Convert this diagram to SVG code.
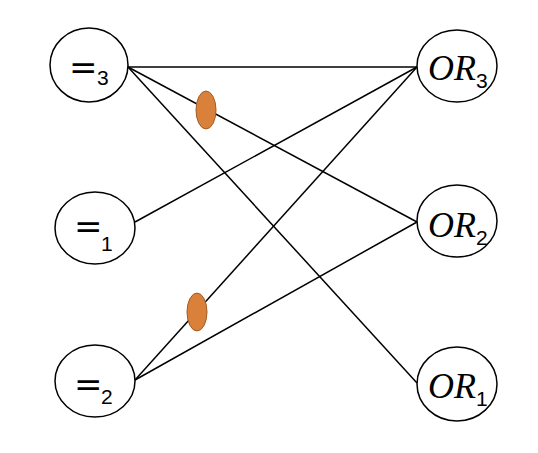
<svg xmlns="http://www.w3.org/2000/svg" width="538" height="453" viewBox="0 0 538 453">
<style>
.node{fill:#fff;stroke:#000;stroke-width:1.5}
.eq{font-family:"DejaVu Sans",sans-serif;font-size:34px;fill:#000}
.or{font-family:"Liberation Serif","Times New Roman",serif;font-style:italic;font-size:36px;fill:#000}
.sub{font-family:"Liberation Sans",Arial,sans-serif;font-style:normal;font-size:21px}
.conn line{stroke:#000;stroke-width:1.5}
.dot{fill:#D9813A;stroke:#A35C24;stroke-width:1}
</style>
<rect width="538" height="453" fill="#fff"/>
<g id="connectors" class="conn">
<line x1="128" y1="67" x2="417" y2="67"/>
<line x1="128" y1="67" x2="417" y2="222"/>
<line x1="128" y1="67" x2="417" y2="383"/>
<line x1="135" y1="222" x2="417" y2="67"/>
<line x1="135" y1="380" x2="417" y2="67"/>
<line x1="135" y1="380" x2="417" y2="222"/>
</g>
<g id="marks">
<ellipse class="dot" cx="206" cy="110" rx="10" ry="19"/>
<ellipse class="dot" cx="197" cy="312" rx="10" ry="19"/>
</g>
<g id="eq3">
<ellipse class="node" cx="89" cy="65" rx="39" ry="37"/>
<text class="eq" x="69" y="79">=<tspan class="sub" x="97" y="85">3</tspan></text>
</g>
<g id="eq1">
<ellipse class="node" cx="95" cy="228" rx="40" ry="36"/>
<text class="eq" x="74" y="238">=<tspan class="sub" x="101" y="251">1</tspan></text>
</g>
<g id="eq2">
<ellipse class="node" cx="95" cy="381" rx="40" ry="36"/>
<text class="eq" x="74" y="396">=<tspan class="sub" x="101" y="404">2</tspan></text>
</g>
<g id="or3">
<ellipse class="node" cx="457" cy="66" rx="40" ry="36"/>
<text class="or" x="428" y="80">OR<tspan class="sub" x="476" y="88">3</tspan></text>
</g>
<g id="or2">
<ellipse class="node" cx="457" cy="221" rx="40" ry="36"/>
<text class="or" x="428" y="237">OR<tspan class="sub" x="476" y="245">2</tspan></text>
</g>
<g id="or1">
<ellipse class="node" cx="457" cy="384" rx="40" ry="37"/>
<text class="or" x="428" y="398">OR<tspan class="sub" x="476" y="406">1</tspan></text>
</g>
</svg>
